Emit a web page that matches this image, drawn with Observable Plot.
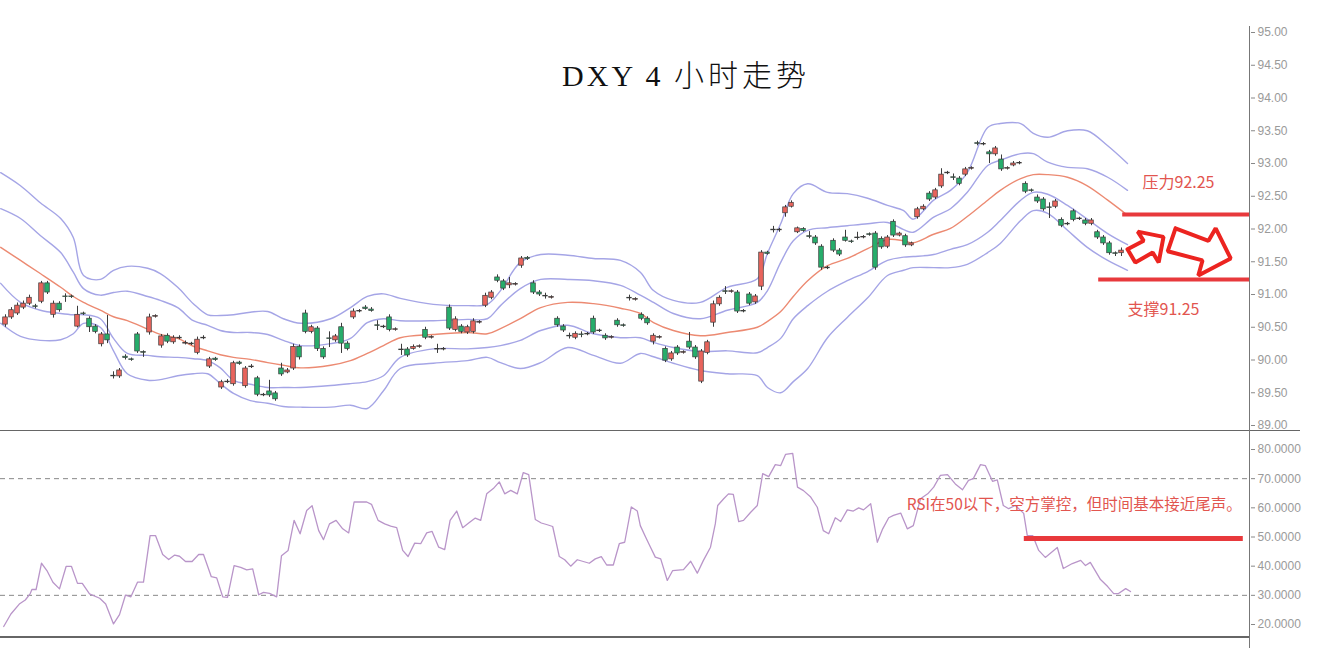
<!DOCTYPE html>
<html><head><meta charset="utf-8">
<script src="https://cdn.jsdelivr.net/npm/d3@7"></script>
<script src="https://cdn.jsdelivr.net/npm/@observablehq/plot@0.6"></script>
<style>
html,body{margin:0;padding:0;background:#fff;}
#wrap{position:relative;width:1321px;height:660px;overflow:hidden;background:#fff;}
#topPanel,#bottomPanel{position:absolute;left:0;}
#topPanel{top:0;}
#bottomPanel{top:432px;}
.ln{position:absolute;background:#666;}
#title{position:absolute;left:0;width:1372px;text-align:center;top:57px;font-size:30px;line-height:32px;color:#111;white-space:nowrap;}
#title .lat{font-family:'Liberation Serif','DejaVu Serif',serif;letter-spacing:3px;}
#title .cjk{font-family:'Noto Sans CJK SC',sans-serif;font-weight:300;letter-spacing:4px;}
</style>
</head><body>
<div id="wrap">
  <div id="topPanel"></div>
  <div id="bottomPanel"></div>
  <div class="ln" style="left:0;top:430px;width:1300px;height:1px;"></div>
  <div class="ln" style="left:0;top:636px;width:1250px;height:2px;"></div>
  <div class="ln" style="left:1249px;top:26px;width:1px;height:622px;background:#777;"></div>
  <div id="title"><span class="lat">DXY 4 </span><span class="cjk">小时走势</span></div>
</div>
<script>
// ---------- DATA ----------
const titleText = "DXY 4 小时走势";
const priceTicks = [89, 89.5, 90, 90.5, 91, 91.5, 92, 92.5, 93, 93.5, 94, 94.5, 95];
const rsiTicks = [20, 30, 40, 50, 60, 70, 80];

const candleOpen = [90.54,90.65,90.71,90.80,90.86,90.82,90.89,91.17,90.69,90.86,
 90.97,90.97,90.51,90.71,90.63,90.51,90.24,90.39,89.76,89.75,
 90.05,90.01,90.39,90.12,90.42,90.66,90.22,90.37,90.27,90.34,
 90.25,90.25,90.11,90.33,89.90,90.02,89.58,89.66,89.63,89.96,
 89.60,89.89,89.72,89.47,89.52,89.49,89.87,89.81,89.87,90.20,
 90.71,90.43,90.48,90.17,90.33,90.30,90.50,90.25,90.65,90.74,
 90.80,90.77,90.53,90.50,90.65,90.46,90.16,90.16,90.17,90.20,
 90.46,90.34,90.17,90.16,90.80,90.46,90.51,90.42,90.43,90.57,
 90.83,90.95,91.26,91.20,91.14,91.15,91.44,91.56,91.17,91.03,
 90.98,90.95,90.63,90.51,90.37,90.34,90.39,90.39,90.63,90.45,
 90.37,90.34,90.60,90.53,90.95,90.92,90.69,90.63,90.28,90.34,
 90.17,90.01,90.19,90.11,90.28,90.19,89.67,90.11,90.57,90.85,
 91.05,91.04,91.03,90.75,91.00,90.88,91.12,91.64,91.99,91.98,
 92.24,92.34,91.95,92.00,91.89,91.87,91.73,91.41,91.82,91.67,
 91.87,91.81,91.87,91.87,91.92,91.93,91.85,91.73,92.11,91.90,
 91.89,91.75,92.18,92.30,92.54,92.48,92.65,92.85,92.79,92.77,
 92.83,92.92,93.31,93.29,93.17,93.14,93.06,92.92,92.97,93.00,
 92.69,92.59,92.48,92.45,92.33,92.34,92.14,92.08,92.27,92.16,
 92.13,92.08,91.95,91.87,91.78,91.63,91.63];
const candleClose = [90.65,90.76,90.83,90.86,90.95,90.81,91.17,91.03,90.86,90.76,
 90.96,90.96,90.69,90.70,90.50,90.43,90.39,90.30,89.75,89.84,
 90.03,90.00,90.13,90.11,90.65,90.67,90.36,90.28,90.34,90.33,
 90.26,90.24,90.31,90.34,90.01,90.00,89.66,89.67,89.95,89.94,
 89.87,89.90,89.47,89.46,89.46,89.40,89.78,89.84,90.20,90.04,
 90.43,90.50,90.17,90.04,90.32,90.36,90.25,90.17,90.74,90.75,
 90.78,90.75,90.52,90.51,90.46,90.47,90.15,90.07,90.20,90.21,
 90.34,90.35,90.16,90.17,90.48,90.62,90.43,90.50,90.59,90.58,
 90.98,91.03,91.21,91.09,91.17,91.16,91.55,91.54,91.03,91.00,
 90.97,90.96,90.53,90.45,90.36,90.40,90.38,90.40,90.42,90.44,
 90.33,90.35,90.53,90.52,90.94,90.93,90.63,90.56,90.37,90.35,
 89.99,90.10,90.10,90.12,90.19,90.04,90.13,90.27,90.85,90.95,
 91.04,91.05,90.74,90.74,90.86,90.97,91.64,91.62,91.98,91.99,
 92.33,92.40,92.01,91.97,91.88,91.78,91.41,91.40,91.67,91.61,
 91.82,91.80,91.86,91.88,91.91,91.41,91.72,91.87,91.90,91.93,
 91.75,91.78,92.30,92.34,92.45,92.59,92.83,92.86,92.78,92.69,
 92.91,92.93,93.30,93.30,93.14,93.23,92.91,92.93,93.00,93.01,
 92.57,92.58,92.42,92.30,92.32,92.42,92.05,92.07,92.14,92.15,
 92.08,92.13,91.87,91.78,91.63,91.62,91.67];
const candleHigh = [90.69,90.80,90.87,90.90,90.99,90.85,91.20,91.20,90.90,90.89,
 91.01,90.99,90.82,90.73,90.66,90.54,90.42,90.68,89.82,89.87,
 90.08,90.03,90.42,90.14,90.70,90.69,90.39,90.40,90.37,90.37,
 90.29,90.27,90.35,90.37,90.04,90.04,89.69,89.70,89.98,89.98,
 89.90,89.93,89.75,89.49,89.69,89.52,89.95,89.87,90.24,90.23,
 90.76,90.53,90.51,90.20,90.43,90.39,90.56,90.28,90.78,90.77,
 90.83,90.80,90.60,90.53,90.69,90.49,90.24,90.19,90.23,90.23,
 90.50,90.37,90.24,90.19,90.84,90.66,90.54,90.53,90.63,90.60,
 91.02,91.06,91.30,91.23,91.26,91.18,91.58,91.58,91.21,91.06,
 91.02,90.98,90.66,90.54,90.41,90.43,90.43,90.42,90.67,90.47,
 90.40,90.37,90.63,90.55,90.99,90.95,90.72,90.66,90.40,90.37,
 90.20,90.13,90.22,90.14,90.42,90.22,90.16,90.30,90.90,90.98,
 91.12,91.07,91.06,90.77,91.03,91.00,91.67,91.66,92.04,92.01,
 92.36,92.43,92.03,92.02,91.96,91.90,91.76,91.43,91.85,91.70,
 91.98,91.83,91.95,91.90,91.94,91.96,91.88,91.90,92.14,91.95,
 91.92,91.80,92.33,92.37,92.57,92.62,92.92,92.88,92.84,92.80,
 92.94,92.95,93.34,93.32,93.20,93.26,93.13,92.95,93.03,93.03,
 92.72,92.61,92.52,92.48,92.40,92.45,92.17,92.10,92.30,92.18,
 92.16,92.16,91.98,91.90,91.81,91.65,91.71];
const candleLow = [90.50,90.62,90.68,90.77,90.83,90.78,90.86,91.00,90.64,90.73,
 90.88,90.94,90.49,90.68,90.42,90.40,90.20,90.25,89.71,89.72,
 90.00,89.98,90.10,90.04,90.38,90.64,90.18,90.25,90.24,90.31,
 90.23,90.22,90.08,90.31,89.87,89.98,89.55,89.64,89.60,89.92,
 89.57,89.87,89.44,89.44,89.43,89.37,89.75,89.79,89.84,90.00,
 90.40,90.40,90.13,90.01,90.19,90.27,90.10,90.14,90.62,90.72,
 90.76,90.73,90.45,90.48,90.43,90.44,90.07,90.04,90.15,90.18,
 90.31,90.32,90.10,90.14,90.45,90.43,90.40,90.39,90.40,90.55,
 90.80,90.92,91.18,91.06,91.09,91.13,91.40,91.52,91.00,90.97,
 90.93,90.93,90.50,90.42,90.32,90.31,90.34,90.37,90.39,90.42,
 90.30,90.32,90.50,90.50,90.90,90.90,90.60,90.53,90.23,90.32,
 89.96,89.98,90.07,90.09,90.16,90.01,89.64,90.08,90.50,90.82,
 91.00,91.02,90.71,90.72,90.83,90.85,91.06,91.60,91.94,91.95,
 92.18,92.32,91.93,91.95,91.85,91.75,91.37,91.38,91.64,91.58,
 91.80,91.78,91.83,91.85,91.89,91.37,91.69,91.70,91.87,91.88,
 91.72,91.73,92.15,92.28,92.42,92.45,92.62,92.83,92.74,92.66,
 92.80,92.90,93.27,93.27,93.00,93.11,92.88,92.90,92.95,92.98,
 92.54,92.56,92.39,92.27,92.16,92.31,92.02,92.05,92.11,92.13,
 92.05,92.05,91.84,91.75,91.60,91.58,91.58];

// Bollinger-style envelopes, sampled at bar positions (bar index)
const bandIdx = [-0.8,2.5,5.8,9.2,11.3,13,15.8,18,20.3,23.7,25.8,28.7,31.3,33.7,35.8,38,40.8,43.7,46.3,49.2,54.2,57.5,60.3,63,65.8,71.3,77,80.3,82.5,85.8,89.2,93.7,98,102.5,105.8,108,111.3,115.8,120.3,125.3,127,129.2,131.3,133.7,137,140.3,143.7,147,149.7,151.3,154.7,157.5,160.3,163.7,165.8,169.2,171.3,173.7,177,180.3,183.7,187];
const bandUpperOuter = [92.86,92.66,92.40,92.16,91.87,91.29,91.23,91.37,91.43,91.40,91.32,91.11,90.86,90.69,90.68,90.69,90.73,90.74,90.63,90.56,90.63,90.80,90.97,91.01,90.94,90.85,90.83,90.85,91.06,91.49,91.61,91.60,91.55,91.52,91.34,91.06,90.91,90.88,91.11,91.24,91.63,92.08,92.54,92.69,92.56,92.54,92.47,92.36,92.28,92.15,92.44,92.59,92.86,93.55,93.61,93.61,93.46,93.40,93.50,93.50,93.27,93.00];
const bandUpperInner = [92.31,92.16,91.90,91.64,91.34,91.09,90.99,91.03,91.05,90.97,90.91,90.80,90.60,90.53,90.45,90.42,90.42,90.39,90.30,90.22,90.25,90.33,90.57,90.63,90.60,90.60,90.62,90.63,90.83,91.09,91.23,91.23,91.21,91.14,90.99,90.88,90.71,90.63,90.76,90.88,91.06,91.49,91.82,91.98,92.02,92.05,92.08,92.10,91.99,91.95,92.18,92.31,92.56,92.97,93.05,93.15,93.15,93.02,92.94,92.92,92.79,92.59];
const bandMiddle = [91.72,91.52,91.32,91.11,90.97,90.88,90.76,90.66,90.60,90.47,90.39,90.33,90.21,90.14,90.08,90.04,90.01,89.96,89.92,89.88,89.92,89.99,90.10,90.22,90.34,90.39,90.42,90.40,90.48,90.63,90.80,90.88,90.86,90.79,90.71,90.57,90.45,90.37,90.42,90.50,90.59,90.74,90.97,91.21,91.44,91.55,91.70,91.84,91.82,91.79,91.92,92.01,92.19,92.44,92.59,92.77,92.83,92.83,92.79,92.66,92.44,92.21];
const bandLowerInner = [91.17,90.88,90.76,90.71,90.69,90.69,90.63,90.33,90.10,90.07,90.05,90.04,90.02,89.99,89.88,89.69,89.63,89.58,89.58,89.58,89.61,89.64,89.67,89.76,90.04,90.17,90.17,90.19,90.22,90.30,90.45,90.53,90.40,90.34,90.34,90.27,90.19,90.13,90.14,90.11,90.19,90.33,90.63,90.83,91.05,91.21,91.35,91.52,91.57,91.58,91.61,91.69,91.76,91.95,92.13,92.44,92.56,92.53,92.36,92.15,91.93,91.76];
const bandLowerOuter = [90.56,90.36,90.30,90.31,90.40,90.56,90.50,90.14,89.79,89.69,89.70,89.76,89.79,89.79,89.64,89.49,89.38,89.34,89.29,89.28,89.28,89.31,89.26,89.53,89.87,89.95,89.99,90.04,89.96,89.87,89.96,90.19,90.07,89.95,90.10,90.05,89.95,89.84,89.79,89.76,89.58,89.50,89.67,89.87,90.34,90.65,90.95,91.29,91.37,91.41,91.41,91.41,91.46,91.64,91.78,92.13,92.28,92.24,91.98,91.72,91.52,91.37];

// RSI line vertices (bar index, RSI value)
const rsiIdx = [-0.3,0.9,2.3,3.3,4.1,4.4,5.1,6.0,6.9,7.9,
 9.0,10.1,11.0,12.0,12.8,14.0,15.7,16.7,18.0,19.0,
 20.0,20.9,22.0,23.0,24.1,25.0,26.2,27.2,28.2,29.0,
 30.0,31.1,32.2,33.0,34.3,35.2,36.2,37.0,38.1,39.2,
 40.2,41.2,42.2,43.0,44.0,45.2,46.0,47.1,48.1,49.1,
 50.2,51.1,52.2,53.0,54.0,55.1,56.2,57.2,58.1,59.2,
 60.2,61.0,62.1,63.2,64.2,65.2,66.2,67.1,68.2,69.2,
 70.2,71.1,72.2,73.2,74.1,75.2,76.2,77.2,78.3,79.2,
 80.2,81.3,82.3,83.2,84.2,85.3,86.3,87.2,88.3,89.3,
 90.3,91.2,92.3,93.2,94.2,95.3,96.3,97.3,98.3,99.3,
 100.2,101.3,102.3,103.2,104.3,105.3,105.8,106.7,107.5,108.3,
 109.2,110.3,111.2,113.0,114.2,115.3,116.3,117.5,118.3,118.7,
 119.7,120.5,121.3,122.2,123.0,124.2,125.3,126.2,127.2,128.3,
 129.2,130.0,131.2,132.0,133.0,134.2,135.3,136.3,137.2,138.3,
 139.2,140.3,141.3,142.2,143.0,144.2,145.3,146.2,147.2,148.0,
 149.2,150.3,151.3,152.5,153.7,154.7,155.8,157.0,158.3,159.5,
 160.5,161.3,162.5,163.3,164.5,165.3,166.3,167.2,168.3,169.7,
 170.3,171.2,172.2,173.3,175.3,176.3,177.8,179.2,180.0,180.8,
 182.5,183.7,184.7,185.5,186.7,187.5];
const rsiVal = [19.3,23.6,27.0,28.4,30.5,32.0,32.0,41.0,38.5,34.5,
 32.2,39.9,39.9,34.1,34.1,30.5,29.0,27.0,20.2,23.4,
 30.1,29.5,34.5,34.5,50.5,50.5,44.0,42.3,43.8,43.4,
 41.6,41.6,44.0,44.0,36.4,36.0,29.5,29.3,40.2,39.6,
 38.7,39.1,30.2,31.0,30.7,29.5,43.6,45.4,55.7,51.1,
 59.1,60.7,52.2,49.1,54.5,55.7,52.8,51.4,62.0,62.0,
 62.0,61.2,55.7,54.5,53.7,53.2,45.4,43.3,47.9,47.7,
 51.4,51.9,46.5,45.7,55.7,58.9,53.2,54.8,56.5,55.7,
 64.8,66.6,68.9,64.8,66.0,64.8,72.1,71.4,56.0,54.8,
 54.2,53.6,43.3,42.2,40.0,42.2,41.6,41.0,42.5,43.3,
 40.4,40.4,47.7,48.2,60.3,58.9,53.9,49.9,46.5,43.1,
 42.5,35.1,38.5,38.8,41.7,37.6,41.9,46.5,54.5,60.8,
 63.1,64.8,64.6,55.3,55.7,58.5,60.8,71.7,70.7,74.8,
 74.5,78.3,78.7,67.1,65.9,63.7,60.2,52.2,51.1,56.6,
 55.3,59.3,58.9,60.0,59.3,61.4,48.2,52.8,56.6,57.4,
 58.2,52.8,53.9,63.1,64.8,67.1,71.1,71.4,68.2,66.2,
 69.4,70.0,74.8,74.5,69.1,69.6,60.8,59.7,60.8,58.1,
 50.5,50.5,45.4,43.0,46.4,39.2,40.9,42.0,40.2,41.3,
 35.4,33.0,30.6,30.6,32.3,31.3];

const rsiLevels = [70, 30];
// annotations
const resistance = {label: "压力92.25", price: 92.22, fromBar: 186.2, labelBar: 195.5, labelPrice: 92.71};
const support = {label: "支撑91.25", price: 91.23, fromBar: 182.2, labelBar: 193.0, labelPrice: 90.77};
const rsiNote = {text: "RSI在50以下，空方掌控，但时间基本接近尾声。", bar: 150.2, value: 60.8, lineValue: 49.5, lineFrom: 169.8, lineTo: 206.3};
const arrowSmall = [[187.0,91.69],[189.7,91.82],[188.7,91.96],[193.0,91.88],[192.2,91.49],[191.2,91.64],[188.3,91.49],[187.0,91.69]];
const arrowLarge = [[195.0,92.01],[200.5,91.82],[201.7,92.01],[204.2,91.55],[198.8,91.29],[199.5,91.52],[193.7,91.66],[195.0,92.01]];

// ---------- CHART ----------
const xDomain = [-5/6, 1245/6];
const UP = "#e8645c", DOWN = "#26ad6b", EDGE = "#3b3b3b";
const BAND = "#a5a5e6", MID = "#ec8a72", RED = "#e8393c", NOTE = "#e2554f";
const cjk = "'Noto Sans CJK SC', 'Noto Sans', sans-serif";

const candles = candleOpen.map((o, i) => ({i, o, c: candleClose[i], h: candleHigh[i], l: candleLow[i], up: candleClose[i] >= o}));
const bands = bandIdx.map((x, k) => ({x, uo: bandUpperOuter[k], ui: bandUpperInner[k], m: bandMiddle[k], li: bandLowerInner[k], lo: bandLowerOuter[k]}));
const rsi = rsiIdx.map((x, k) => ({x, v: rsiVal[k]}));

const baseStyle = {background: "transparent", fontFamily: "'Liberation Sans', Arial, sans-serif", fontSize: "12px", overflow: "visible"};

const priceChart = Plot.plot({
  width: 1321, height: 431,
  marginLeft: 0, marginRight: 71, marginTop: 32, marginBottom: 6,
  style: baseStyle,
  x: {domain: xDomain, axis: null},
  y: {domain: [89, 95], axis: null},
  marks: [
    Plot.axisY(priceTicks, {anchor: "right", tickSize: 4, tickPadding: 3, tickFormat: d3.format(".2f"), stroke: "#888", fill: "#9a9a9a", fontSize: 12}),
    Plot.line(bands, {x: "x", y: "uo", stroke: BAND, strokeWidth: 1.4, curve: "catmull-rom"}),
    Plot.line(bands, {x: "x", y: "ui", stroke: BAND, strokeWidth: 1.4, curve: "catmull-rom"}),
    Plot.line(bands, {x: "x", y: "li", stroke: BAND, strokeWidth: 1.4, curve: "catmull-rom"}),
    Plot.line(bands, {x: "x", y: "lo", stroke: BAND, strokeWidth: 1.4, curve: "catmull-rom"}),
    Plot.line(bands, {x: "x", y: "m", stroke: MID, strokeWidth: 1.4, curve: "catmull-rom"}),
    Plot.ruleX(candles, {x: "i", y1: "l", y2: "h", stroke: EDGE, strokeWidth: 1}),
    Plot.rect(candles, {x1: d => d.i - 0.38, x2: d => d.i + 0.38, y1: "o", y2: "c", fill: d => d.up ? UP : DOWN, stroke: EDGE, strokeWidth: 0.7}),
    Plot.ruleY([resistance], {y: "price", x1: "fromBar", x2: () => xDomain[1], stroke: RED, strokeWidth: 4}),
    Plot.ruleY([support], {y: "price", x1: "fromBar", x2: () => xDomain[1], stroke: RED, strokeWidth: 4}),
    Plot.text([resistance, support], {x: "labelBar", y: "labelPrice", text: "label", fill: NOTE, fontSize: 16, fontFamily: cjk}),
    Plot.line(arrowSmall, {x: d => d[0], y: d => d[1], stroke: "#ec2420", strokeWidth: 4, fill: "white", strokeLinejoin: "miter"}),
    Plot.line(arrowLarge, {x: d => d[0], y: d => d[1], stroke: "#ec2420", strokeWidth: 4, fill: "white", strokeLinejoin: "miter"})
  ]
});
document.getElementById("topPanel").appendChild(priceChart);

const rsiChart = Plot.plot({
  width: 1321, height: 228,
  marginLeft: 0, marginRight: 71, marginTop: 17, marginBottom: 36,
  style: baseStyle,
  x: {domain: xDomain, axis: null},
  y: {domain: [20, 80], axis: null},
  marks: [
    Plot.axisY(rsiTicks, {anchor: "right", tickSize: 4, tickPadding: 3, tickFormat: d3.format(".4f"), stroke: "#888", fill: "#9a9a9a", fontSize: 12}),
    Plot.ruleY(rsiLevels, {stroke: "#888", strokeWidth: 1, strokeDasharray: "5,4"}),
    Plot.line(rsi, {x: "x", y: "v", stroke: "#b995c9", strokeWidth: 1.3}),
    Plot.ruleY([rsiNote], {y: "lineValue", x1: "lineFrom", x2: "lineTo", stroke: RED, strokeWidth: 5}),
    Plot.text([rsiNote], {x: "bar", y: "value", text: "text", textAnchor: "start", fill: NOTE, fontSize: 15.5, fontFamily: cjk})
  ]
});
document.getElementById("bottomPanel").appendChild(rsiChart);
</script>
</body></html>
